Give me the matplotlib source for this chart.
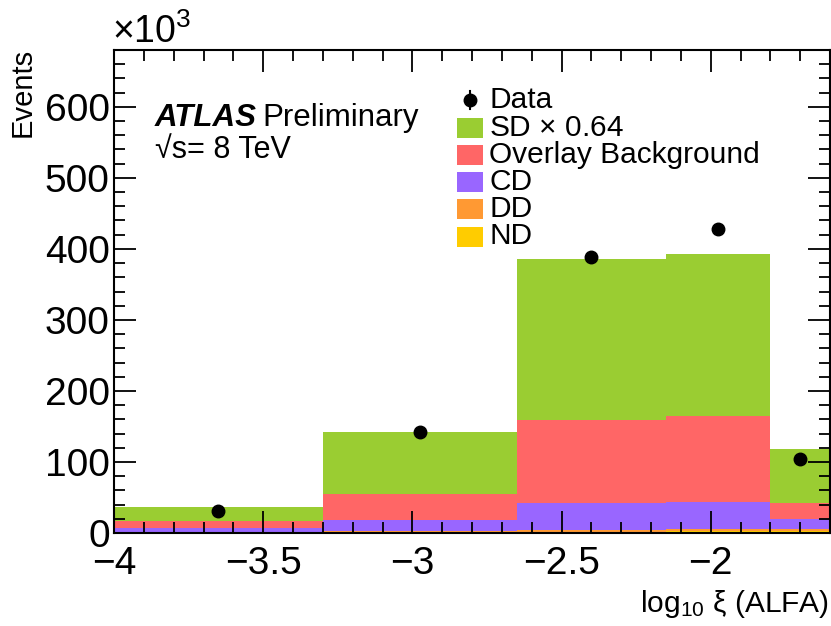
import matplotlib
matplotlib.use("Agg")
import matplotlib.pyplot as plt
from matplotlib.ticker import MultipleLocator, FuncFormatter
from matplotlib.patches import Rectangle
import numpy as np

plt.rcParams['font.family'] = ['Liberation Sans', 'DejaVu Sans']
plt.rcParams['mathtext.fontset'] = 'custom'
plt.rcParams['mathtext.rm'] = 'Liberation Sans'
plt.rcParams['mathtext.it'] = 'Liberation Sans:italic'

# bins in log10(xi), events in units of 10^3
edges = [-4.0, -3.3, -2.65, -2.15, -1.8, -1.6]
nd = [1.0, 1.2, 2.0, 3.0, 3.0]
dd = [1.0, 1.3, 2.0, 3.0, 3.0]
cd = [5.5, 15.8, 38.0, 38.0, 14.0]
overlay = [9.0, 36.7, 117.0, 121.0, 22.0]
sd = [19.5, 87.5, 227.0, 228.0, 76.0]
data = [31, 142, 389, 428, 104]

comps = [nd, dd, cd, overlay, sd]
colors = ['#ffcc00', '#ff9933', '#9966ff', '#ff6666', '#9acd32']
names = ['ND', 'DD', 'CD', 'Overlay Background', r'SD $\times$ 0.64']

W, H = 831, 626
fig = plt.figure(figsize=(W / 100, H / 100), dpi=100)
ax = fig.add_axes([114 / W, 1 - 533 / H, (830 - 114) / W, (533 - 50) / H])

left = np.array(edges[:-1])
width = np.diff(edges)
bottom = np.zeros(len(left))
for vals, c in zip(comps, colors):
    ax.bar(left, vals, width=width, bottom=bottom, align='edge', color=c, linewidth=0)
    bottom += np.array(vals)

centers = left + width / 2
ax.errorbar(centers, data, yerr=np.sqrt(np.array(data) / 1000.0), fmt='o', color='black', ms=9, capsize=0, zorder=5)

ax.set_xlim(-4, -1.6)
ax.set_ylim(0, 680)
ax.xaxis.set_major_locator(MultipleLocator(0.5))
ax.xaxis.set_minor_locator(MultipleLocator(0.1))
ax.xaxis.set_major_formatter(FuncFormatter(lambda v, p: ('%g' % v).replace('-', '\u2212')))
ax.yaxis.set_major_locator(MultipleLocator(100))
ax.yaxis.set_minor_locator(MultipleLocator(20))
ax.tick_params(which='both', direction='in', top=True, right=True, width=1.3, labelsize=28)
ax.tick_params(which='major', length=16)
ax.tick_params(which='minor', length=8)
ax.tick_params(axis='x', pad=9)
ax.tick_params(axis='y', pad=3)
for s in ax.spines.values():
    s.set_linewidth(1.5)

def fx(px):
    return px / W

def fy(py):
    return 1 - py / H

fig.text(fx(112), fy(43), r'$\times$10$^{3}$', fontsize=27, va='baseline')
fig.text(fx(23), fy(48), 'Events', fontsize=21, rotation=90, ha='center', va='top')
fig.text(fx(829), fy(612), r'log$_{10}$ ξ (ALFA)', fontsize=21.5, ha='right', va='baseline')

fig.text(fx(155), fy(126), 'ATLAS', fontsize=22.5, fontweight='bold', style='italic', va='baseline')
fig.text(fx(262), fy(126), 'Preliminary', fontsize=22.5, va='baseline')
fig.text(fx(155), fy(158), '√s= 8 TeV', fontsize=22, va='baseline')

# legend, drawn by hand
rows = [127.5, 155, 182, 209, 236.5]
for c, n, r in zip(colors[::-1], names[::-1], rows):
    fig.patches.append(Rectangle((fx(457), fy(r + 10)), 26 / W, 20 / H, transform=fig.transFigure,
                                 color=c, linewidth=0))
    fig.text(fx(489), fy(r), n, fontsize=21.5, va='center')
fig.lines.append(plt.Line2D([fx(470)], [fy(100)], marker='o', color='black', ms=9, transform=fig.transFigure))
fig.lines.append(plt.Line2D([fx(470), fx(470)], [fy(91), fy(109)], color='black', lw=1.5, transform=fig.transFigure))
fig.text(fx(489), fy(100), 'Data', fontsize=21.5, va='center')

fig.savefig('out.png', dpi=100)
